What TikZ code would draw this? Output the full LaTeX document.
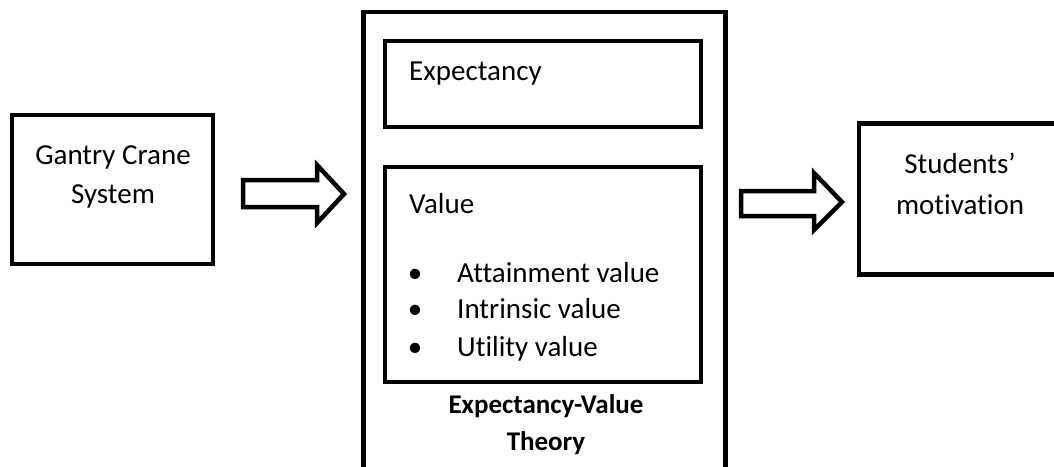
\documentclass[tikz,border=0pt]{standalone}
\usepackage{fontspec}
\setmainfont[Ligatures=NoCommon]{Carlito}
\begin{document}
\begin{tikzpicture}[x=1pt,y=-1pt,
  box/.style={draw, line width=4.5pt, rectangle, inner sep=0pt},
  txt/.style={inner sep=0pt, font=\fontsize{29}{35}\selectfont},
  btxt/.style={inner sep=0pt, font=\fontsize{27}{33}\selectfont\bfseries},
  blockarrow/.style={draw, line width=4.5pt, line join=miter, fill=white}]
\useasboundingbox (0,0) rectangle (1054,466);
% left box
\node[box, minimum width=201pt, minimum height=149pt] (gantry) at (112.5,189.5) {};
\node[txt, anchor=base] (g1) at (113,164) {Gantry Crane};
\node[txt, anchor=base] (g2) at (113,203) {System};
% outer box
\node[box, minimum width=362pt, minimum height=462pt] (evt) at (544.5,243) {};
\node[box, minimum width=316pt, minimum height=86pt] (exp) at (543,84) {};
\node[box, minimum width=316pt, minimum height=215pt] (val) at (543,274.5) {};
\node[txt, anchor=base west] (expt) at (409,80) {Expectancy};
\node[txt, anchor=base west] (valt) at (409,213) {Value};
\node[txt, anchor=base] (b1) at (415,282) {\textbullet};
\node[txt, anchor=base] (b2) at (415,318) {\textbullet};
\node[txt, anchor=base] (b3) at (415,356) {\textbullet};
\node[txt, anchor=base west] (i1) at (457,282) {Attainment value};
\node[txt, anchor=base west] (i2) at (457,318) {Intrinsic value};
\node[txt, anchor=base west] (i3) at (457,356) {Utility value};
\node[btxt, anchor=base] (t1) at (546,413) {Expectancy-Value};
\node[btxt, anchor=base] (t2) at (546,450) {Theory};
% right box
\node[box, minimum width=220pt, minimum height=151pt] (mot) at (969,199) {};
\node[txt, anchor=base] (m1) at (960,173) {Students’};
\node[txt, anchor=base] (m2) at (960,214) {motivation};
% block arrows
\draw[blockarrow] (243,180) -- (317,180) -- (317,165) -- (344,194) -- (317,223) -- (317,207) -- (243,207) -- cycle;
\draw[blockarrow] (741,191) -- (814,191) -- (814,173) -- (842,202) -- (814,230) -- (814,216) -- (741,216) -- cycle;
\end{tikzpicture}
\end{document}
